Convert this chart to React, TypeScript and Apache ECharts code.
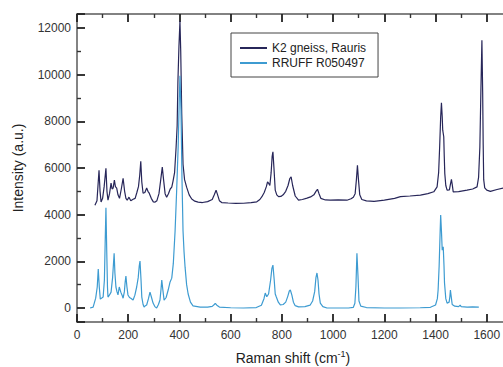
import React, { useEffect, useRef } from "react";
import * as echarts from "echarts";

const seriesNames = ["K2 gneiss, Rauris", "RRUFF R050497"];

const k2Shift = [
  70, 78, 86, 90, 94, 100, 106, 113, 117, 121, 127, 133, 137, 141, 146, 150, 155, 160, 166, 173,
  180, 186, 191, 196, 203, 210, 219, 227, 234, 240, 245, 249, 253, 258, 265, 272, 277, 282, 290, 298,
  305, 312, 320, 327, 333, 338, 344, 350, 357, 364, 370, 375, 381, 387, 391, 394, 398, 402, 405, 409,
  414, 420, 428, 438, 448, 460, 473, 490, 510, 528, 536, 543, 549, 556, 565, 590, 620, 650, 680, 702,
  714, 722, 731, 739, 744, 748, 753, 758, 762, 765, 769, 774, 780, 787, 796, 805, 815, 824, 831, 836,
  842, 852, 865, 880, 898, 912, 925, 933, 939, 945, 952, 970, 989, 1020, 1054, 1070, 1079, 1086, 1091, 1095,
  1099, 1104, 1112, 1130, 1160, 1200, 1240, 1263, 1300, 1341, 1370, 1393, 1406, 1412, 1416, 1420, 1423, 1426, 1428, 1432,
  1434, 1436, 1440, 1445, 1454, 1458, 1462, 1465, 1469, 1490, 1523, 1545, 1562, 1568, 1573, 1577, 1581, 1584, 1586, 1588,
  1592, 1600, 1614, 1640, 1665,
];
const k2Intensity = [
  4400, 4600, 5900, 5000, 4540, 4700, 5200, 5990, 5000, 4620, 4900, 5350, 5100, 5140, 5480, 5200, 5140, 4850, 4700, 5100,
  5560, 5000, 4700, 4620, 4750, 4600, 4660, 4700, 4960, 5200, 5700, 6290, 5400, 4920, 4950, 5140, 5000, 4920, 4700, 4550,
  4540, 4600, 4900, 5500, 6040, 5500, 4900, 4750, 4900, 5100, 5180, 5440, 5800, 6900, 7800, 9700, 11200, 12300, 11000, 8300,
  6160, 5500, 5180, 4850, 4670, 4580, 4540, 4520, 4560, 4650, 4850, 5050, 4850, 4600, 4520, 4500, 4480, 4490, 4520, 4550,
  4650, 4770, 4950, 5190, 5400, 5350, 5250, 5800, 6500, 6690, 6000, 5050, 4850, 4770, 4780, 4850, 5000, 5250, 5550, 5620,
  5250, 4800, 4620, 4650, 4710, 4760, 4850, 5000, 5090, 4900, 4700, 4630, 4620, 4630, 4620, 4680, 4750, 4900, 5500, 6120,
  5500, 4850, 4650, 4590, 4570, 4620, 4700, 4770, 4800, 4840, 4900, 4980, 5190, 5800, 6900, 8200, 8790, 8200, 7620, 7340,
  6500, 5770, 5250, 5050, 5060, 5300, 5510, 5300, 4980, 4990, 5050, 5100, 5190, 5600, 6900, 9300, 11470, 9200, 7000, 5500,
  5150, 5050, 5000, 5080, 5140,
];

const rruffShift = [
  51, 63, 73, 79, 83, 87, 91, 102, 107, 110, 113, 116, 119, 121, 127, 133, 139, 145, 148, 152,
  156, 160, 165, 171, 176, 180, 185, 188, 191, 195, 199, 205, 210, 219, 226, 233, 239, 243, 246, 250,
  253, 258, 262, 267, 272, 279, 285, 291, 297, 304, 311, 318, 324, 328, 331, 335, 340, 348, 356, 363,
  370, 376, 383, 389, 395, 399, 402, 406, 410, 414, 418, 422, 428, 434, 443, 453, 481, 510, 528, 536,
  540, 546, 556, 600, 650, 700, 720, 730, 735, 741, 748, 756, 761, 765, 770, 774, 778, 786, 794, 805,
  815, 823, 829, 833, 839, 845, 852, 865, 890, 910, 920, 928, 933, 937, 941, 945, 950, 960, 976, 1020,
  1060, 1079, 1085, 1089, 1093, 1097, 1101, 1108, 1130, 1200, 1263, 1340, 1380, 1400, 1407, 1410, 1414, 1418, 1420, 1423,
  1426, 1430, 1433, 1435, 1440, 1445, 1453, 1456, 1458, 1461, 1465, 1475, 1490, 1496, 1500, 1523, 1545, 1569,
];
const rruffIntensity = [
  0, 40, 420, 900, 1670, 900, 380, 470, 1200, 2800, 4300, 2500, 900, 470, 560, 680, 1300, 2350, 1500, 900,
  700, 560, 900, 680, 550, 420, 700, 1100, 1370, 900, 560, 450, 420, 340, 550, 900, 1300, 1800, 2010, 1200,
  470, 150, 40, 100, 130, 400, 680, 450, 210, 60, 0, 150, 340, 800, 1200, 800, 340, 450, 770, 1100,
  1280, 1900, 3300, 5000, 6900, 8800, 9950, 8500, 5500, 3300, 2400, 1750, 1000, 600, 250, 90, 40, 40, 70, 150,
  200, 120, 40, 10, 0, 20, 120, 400, 640, 480, 600, 1200, 1700, 1840, 1200, 600, 480, 250, 130, 150,
  250, 500, 730, 770, 550, 250, 100, 50, 60, 120, 300, 700, 1300, 1500, 1200, 600, 210, 60, 0, 0,
  0, 30, 200, 900, 2350, 1400, 300, 80, 20, 0, 0, 10, 30, 130, 400, 770, 1800, 3300, 3980, 3300,
  2480, 2620, 1800, 1070, 400, 210, 250, 500, 770, 500, 150, 80, 60, 120, 60, 40, 50, 40,
];

const FONT = "'Liberation Sans', Arial, sans-serif";
const AXIS_COLOR = "#5a5a5a";

const makeTick = () => ({ show: true, inside: true, length: 8, lineStyle: { color: "#222", width: 1.8 } });
const makeMinor = () => ({ show: true, splitNumber: 2, length: 4, lineStyle: { color: "#333", width: 1.4 } });
const makeLine = () => ({ show: true, onZero: false, lineStyle: { color: AXIS_COLOR, width: 1.5 } });

export default function App() {
  const ref = useRef<HTMLDivElement>(null);
  useEffect(() => {
    if (!ref.current) return;
    const chart = echarts.init(ref.current, null, { renderer: "svg" });
    const k2Data = k2Shift.map((x, i) => [x, k2Intensity[i]]);
    const rruffData = rruffShift.map((x, i) => [x, rruffIntensity[i]]);
    chart.setOption({
      animation: false,
      grid: { left: 77, top: 14, right: -35, bottom: 45, containLabel: false, outerBoundsMode: "none" },
      legend: {
        orient: "vertical",
        left: 231,
        top: 33,
        padding: [9, 12, 8, 9],
        itemGap: 3,
        itemWidth: 27,
        itemHeight: 2,
        icon: "rect",
        borderColor: "#444",
        borderWidth: 1,
        backgroundColor: "#fff",
        textStyle: { fontFamily: FONT, fontSize: 12, color: "#222" },
        data: seriesNames,
      },
      xAxis: [
        {
          type: "value",
          min: 0,
          max: 1800,
          interval: 200,
          position: "bottom",
          splitLine: { show: false },
          axisLine: makeLine(),
          axisTick: makeTick(),
          minorTick: makeMinor(),
          axisLabel: {
            fontFamily: FONT,
            fontSize: 12,
            color: "#333",
            margin: 7,
            showMaxLabel: false,
            formatter: (v: number) => String(v),
          },
          name: "Raman shift (cm{sup|-1})",
          nameLocation: "middle",
          nameGap: 27,
          nameTextStyle: {
            fontFamily: FONT,
            fontSize: 14,
            lineHeight: 18,
            color: "#222",
            padding: [0, 29, 0, 0],
            rich: {
              sup: { fontFamily: FONT, fontSize: 9, lineHeight: 10, verticalAlign: "top", color: "#222" },
            },
          },
        },
        {
          type: "value",
          min: 0,
          max: 1800,
          interval: 200,
          position: "top",
          splitLine: { show: false },
          axisLine: makeLine(),
          axisTick: makeTick(),
          minorTick: makeMinor(),
          axisLabel: { show: false },
        },
      ],
      yAxis: {
        type: "value",
        min: -600,
        max: 12600,
        splitNumber: 6,
        splitLine: { show: false },
        axisLine: makeLine(),
        axisTick: makeTick(),
        minorTick: makeMinor(),
        axisLabel: {
          fontFamily: FONT,
          fontSize: 12,
          color: "#333",
          margin: 6,
          showMinLabel: false,
          showMaxLabel: false,
          formatter: (v: number) => String(v),
        },
        name: "Intensity (a.u.)",
        nameLocation: "middle",
        nameGap: 52,
        nameTextStyle: { fontFamily: FONT, fontSize: 14, color: "#222" },
      },
      series: [
        {
          name: seriesNames[0],
          type: "line",
          data: k2Data,
          showSymbol: false,
          lineStyle: { color: "#272659", width: 1.2 },
          itemStyle: { color: "#272659" },
        },
        {
          name: seriesNames[1],
          type: "line",
          data: rruffData,
          showSymbol: false,
          lineStyle: { color: "#3d9bd1", width: 1.2 },
          itemStyle: { color: "#3d9bd1" },
        },
      ],
    });
    return () => chart.dispose();
  }, []);
  return <div ref={ref} style={{ width: 503, height: 367, position: "absolute", left: 0, top: 0 }} />;
}
